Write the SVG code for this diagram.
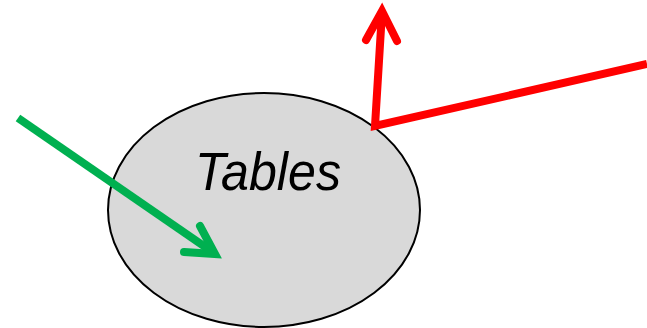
<svg xmlns="http://www.w3.org/2000/svg" width="647" height="328" viewBox="0 0 647 328">
  <style>
    .node { fill: #d9d9d9; stroke: #000; stroke-width: 2; }
    .label { font-family: "Liberation Sans", Arial, sans-serif; font-style: italic; font-size: 54px; fill: #000; }
    .conn { fill: none; stroke-width: 8; stroke-linecap: round; stroke-linejoin: miter; }
    .green { stroke: #00b050; }
    .red { stroke: #ff0000; }
  </style>
  <g id="tables">
    <ellipse class="node" cx="264" cy="210" rx="156" ry="117"/>
    <text class="label" x="268" y="190" text-anchor="middle" textLength="146" lengthAdjust="spacingAndGlyphs">Tables</text>
  </g>
  <g id="connectors">
    <!-- incoming green arrow -->
    <line class="conn green" x1="18" y1="118" x2="214" y2="253" style="stroke-linecap:butt"/>
    <polyline class="conn green" points="200,226 215,254 184,252"/>
    <!-- outgoing red bent arrow -->
    <polyline class="conn red" points="647,64 375,126 382,12" style="stroke-linecap:butt"/>
    <polyline class="conn red" points="366,40 382,11 397,41"/>
  </g>
</svg>
